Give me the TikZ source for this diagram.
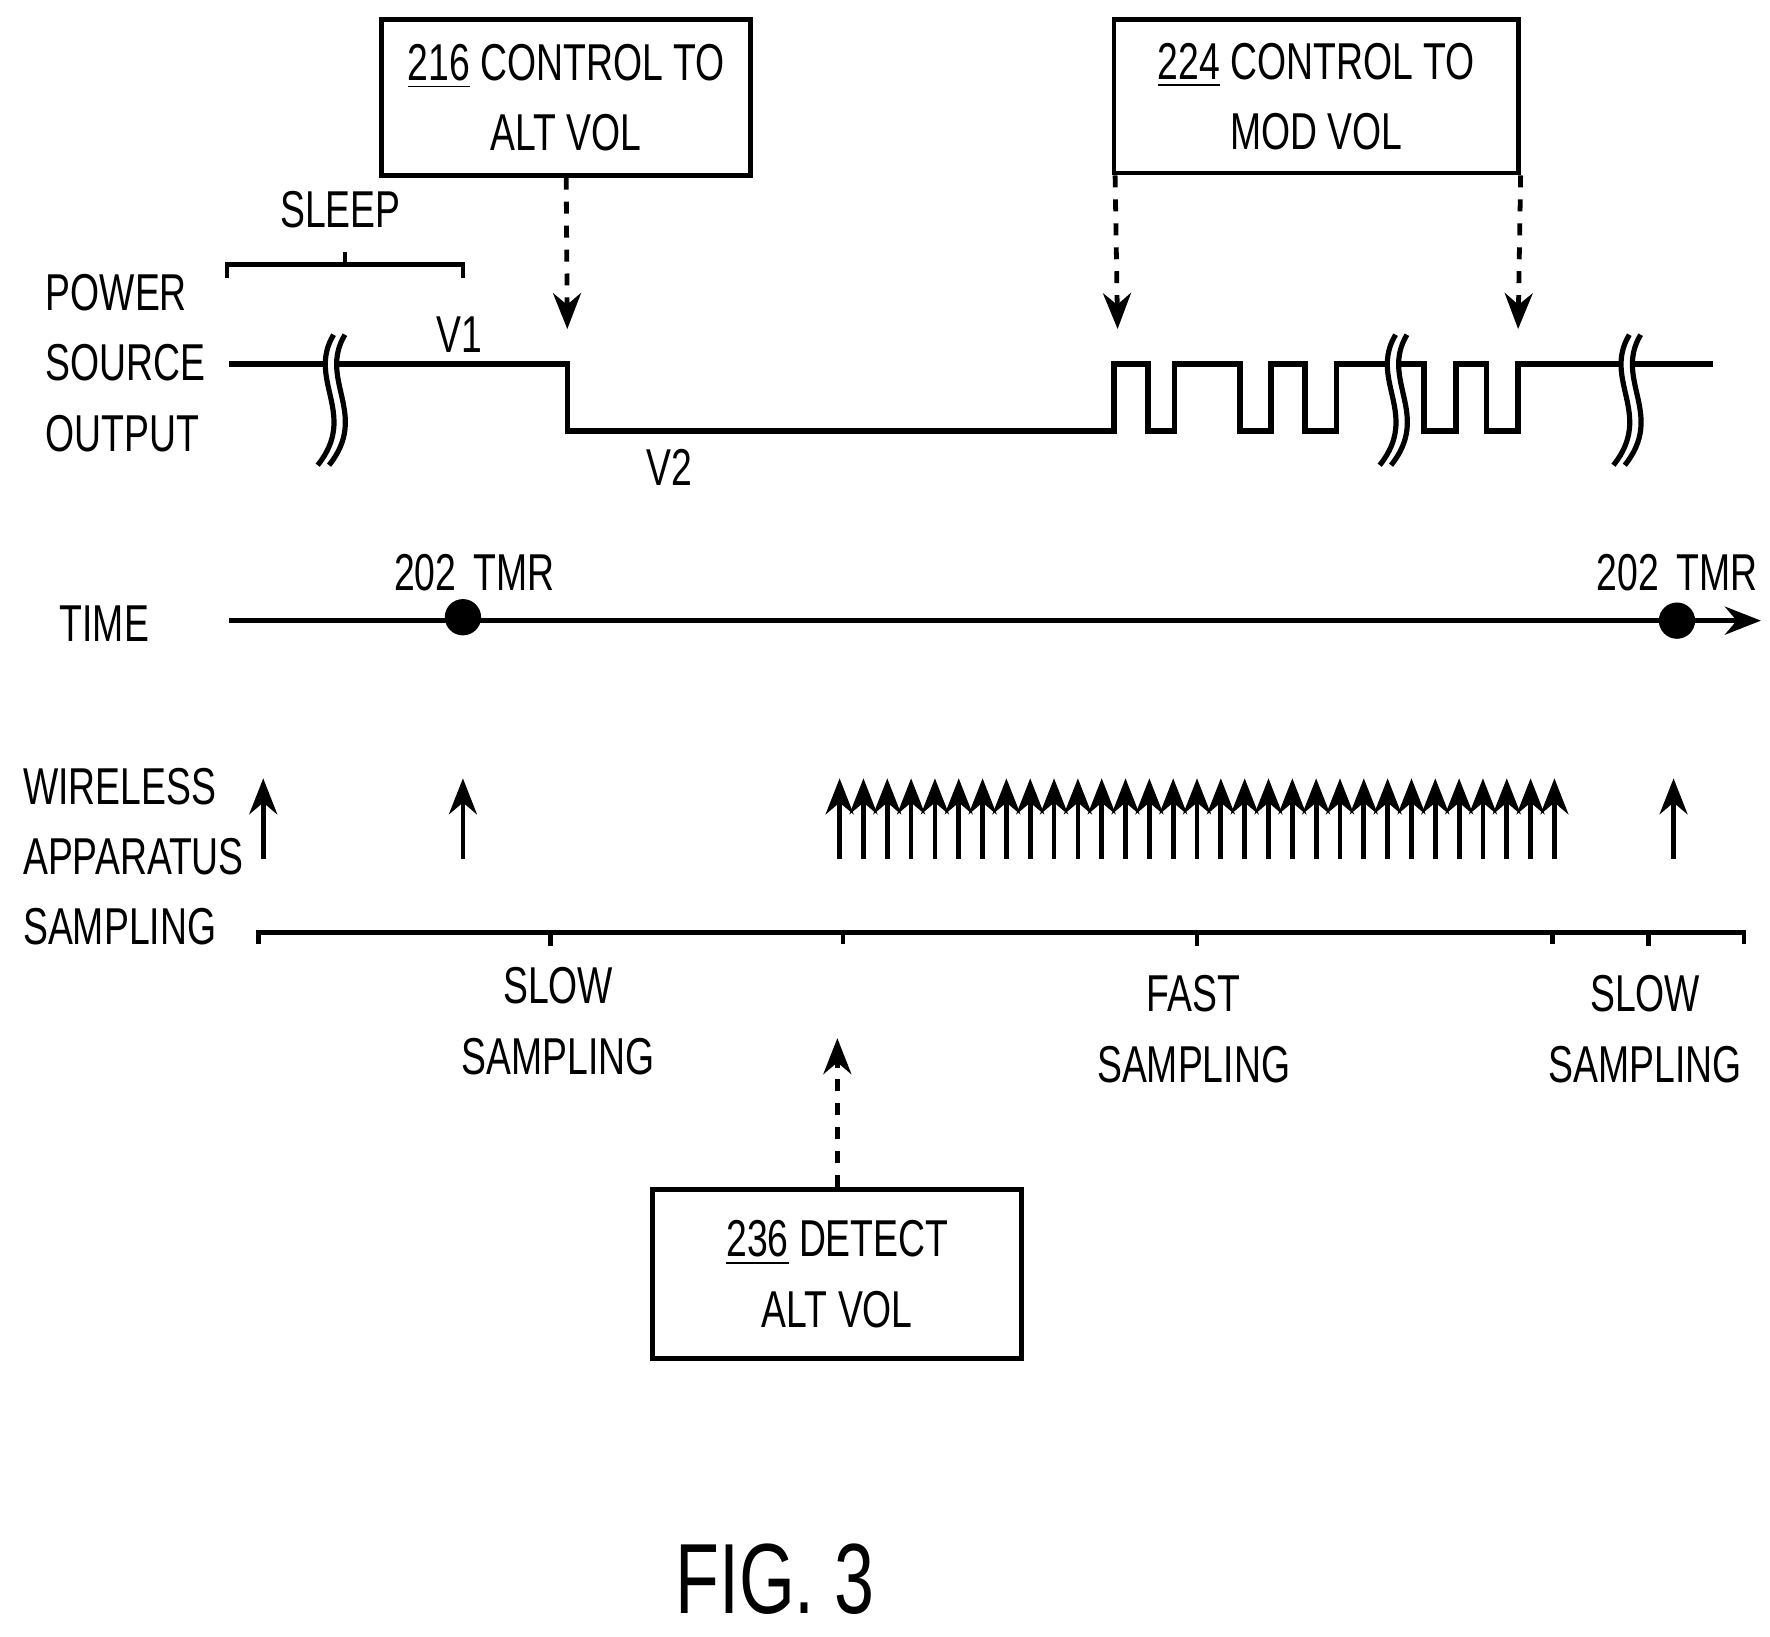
\documentclass[tikz,border=0pt]{standalone}
\usepackage{fontspec}
\setmainfont{Liberation Sans}[FakeStretch=0.72]
\usetikzlibrary{positioning, arrows.meta}
\begin{document}
\begin{tikzpicture}[x=0.01cm, y=-0.01cm, >={Stealth[length=9pt,width=7pt]},
    font=\fontsize{13}{17.6}\selectfont,
    box/.style={draw, line width=1.2pt, align=center, inner sep=0pt},
    lbl/.style={align=center},
    wave/.style={line width=1.4pt},
    ctl/.style={->, dashed, line width=1.2pt},
    smp/.style={->, line width=1.2pt}]
    \useasboundingbox (0,0) rectangle (1560,1442);

    % Boxes
    \node[box, minimum width=3.25cm, minimum height=1.37cm] (216) at (499,86) {\underline{216} CONTROL TO\\ALT VOL};
    \node[box, minimum width=3.56cm, minimum height=1.35cm] (224) at (1160,85) {\underline{224} CONTROL TO\\MOD VOL};
    \node[box, minimum width=3.25cm, minimum height=1.49cm] (236) at (738,1123) {\underline{236} DETECT\\ALT VOL};

    % Labels on the left
    \node[lbl, align=left, anchor=west] (pso) at (28,320) {POWER\\SOURCE\\OUTPUT};
    \node[lbl] (time) at (92,550) {TIME};
    \node[lbl, align=left, anchor=west] (was) at (8,755) {WIRELESS\\APPARATUS\\SAMPLING};

    % Power source output
    \coordinate (a1) at (500,290);
    \coordinate (a2) at (985,290);
    \coordinate (a3) at (1338,290);
    \draw[ctl] (216.south) -- (a1);
    \draw[ctl] (224.south west) ++(3,0) -- (a2);
    \draw[ctl] (224.south east) -- (a3);
    \draw[wave] (202,321) -- (500,321) -- (500,380) -- (982,380) -- (982,321)
        -- (1012,321) -- (1012,380) -- (1035,380) -- (1035,321)
        -- (1093,321) -- (1093,380) -- (1120,380) -- (1120,321)
        -- (1150,321) -- (1150,380) -- (1178,380) -- (1178,321)
        -- (1255,321) -- (1255,380) -- (1283,380) -- (1283,321)
        -- (1310,321) -- (1310,380) -- (1338,380) -- (1338,321) -- (1510,321);
    \foreach \bx in {292,1228,1434}{
        \fill[white] (\bx-6,300) rectangle (\bx+6,405);
        \draw[line width=1.3pt] (\bx+2,295) .. controls (\bx-22,335) and (\bx+24,365) .. (\bx-12,410);
        \draw[line width=1.3pt] (\bx+12,295) .. controls (\bx-12,335) and (\bx+34,365) .. (\bx-2,410);
    }
    \node (v1) at (405,295) {V1};
    \node (v2) at (590,412) {V2};
    \node (sleep) at (300,185) {SLEEP};
    \draw[line width=1.2pt] (200,245) -- (200,233) -- (408,233) -- (408,245) (304,233) -- (304,222);

    % Time axis
    \coordinate (t0) at (202,547);
    \coordinate (t1) at (1552,547);
    \draw[->, line width=1.4pt] (t0) -- (t1);
    \fill (408,544) circle (16);
    \fill (1478,547) circle (16);
    \node (tmr1) at (418,505) {202\,\,TMR};
    \node (tmr2) at (1478,505) {202\,\,TMR};

    % Sampling arrows
    \foreach \sx in {232,408,1475}
        \draw[smp] (\sx,757) -- (\sx,686);
    \foreach \i in {0,...,30}
        \draw[smp] (740+\i*21,757) -- (740+\i*21,686);

    % Sampling braces
    \draw[line width=1.2pt] (228,832) -- (228,822) -- (743,822) -- (743,832)
        (743,822) -- (1368,822) -- (1368,832) (1368,822) -- (1537,822) -- (1537,832);
    \foreach \cx in {485,1055,1453}
        \draw[line width=1.2pt] (\cx,822) -- (\cx,834);
    \node[lbl] (slow1) at (492,900) {SLOW\\SAMPLING};
    \node[lbl] (fast) at (1052,907) {FAST\\SAMPLING};
    \node[lbl] (slow2) at (1450,907) {SLOW\\SAMPLING};
    \coordinate (d1) at (738,915);
    \draw[ctl] (236.north) -- (d1);

    \node[font=\fontsize{25}{30}\selectfont] (fig) at (683,1392) {FIG. 3};
\end{tikzpicture}
\end{document}
